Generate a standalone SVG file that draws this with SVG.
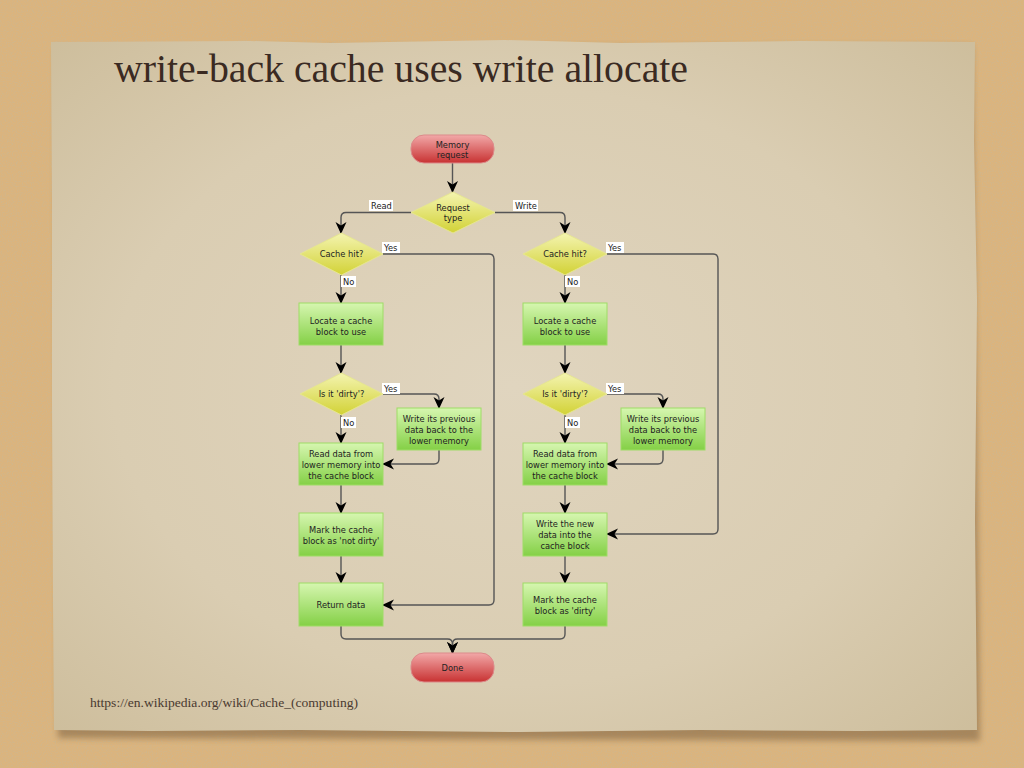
<svg xmlns="http://www.w3.org/2000/svg" width="1024" height="768" viewBox="0 0 1024 768">
<defs>
<filter id="cork" x="0" y="0" width="100%" height="100%">
<feTurbulence type="fractalNoise" baseFrequency="0.8" numOctaves="2" seed="3" result="n"/>
<feColorMatrix in="n" type="matrix" values="0 0 0 0 0.62  0 0 0 0 0.47  0 0 0 0 0.27  0 0 0 2.2 -0.95" result="c"/>
<feComposite in="c" in2="SourceGraphic" operator="over"/>
</filter>
<filter id="shadow" x="-5%" y="-5%" width="110%" height="110%">
<feGaussianBlur stdDeviation="3"/>
</filter>
<radialGradient id="paper" cx="50%" cy="50%" r="72%">
<stop offset="0" stop-color="#e0d5bf"/>
<stop offset="0.6" stop-color="#dacdb2"/>
<stop offset="1" stop-color="#cdbd9b"/>
</radialGradient>
<linearGradient id="gGreen" x1="0" y1="0" x2="0" y2="1">
<stop offset="0" stop-color="#d6f6b0"/>
<stop offset="1" stop-color="#84d046"/>
</linearGradient>
<linearGradient id="gRed" x1="0" y1="0" x2="0" y2="1">
<stop offset="0" stop-color="#f2a8a8"/>
<stop offset="1" stop-color="#c83232"/>
</linearGradient>
<linearGradient id="gYellow" x1="0" y1="0" x2="0" y2="1">
<stop offset="0" stop-color="#f4f4b0"/>
<stop offset="1" stop-color="#d2d236"/>
</linearGradient>
<marker id="arr" viewBox="0 0 12 12" refX="11" refY="6" markerWidth="12" markerHeight="12" markerUnits="userSpaceOnUse" orient="auto">
<path d="M0,0.5 L12,6 L0,11.5 L3.5,6 z" fill="#000"/>
</marker>
<style>
.box{fill:url(#gGreen);stroke:#9edc66;stroke-width:1}
.pill{fill:url(#gRed);stroke:#dc8a8a;stroke-width:1}
.dia{fill:url(#gYellow);stroke:#e6e690;stroke-width:1}
.t{font-family:"DejaVu Sans",Verdana,sans-serif;font-size:8.3px;fill:#222;text-anchor:middle}
.lbl{font-family:"DejaVu Sans",Verdana,sans-serif;font-size:8.3px;fill:#222}
.lb{fill:#ffffff}
.c path{fill:none;stroke:#555;stroke-width:1.4;marker-end:url(#arr)}
</style>
</defs>

<!-- cork background -->
<rect x="0" y="0" width="1024" height="768" fill="#dbb47d" filter="url(#cork)"/>

<!-- paper -->
<g id="paper-sheet">
<path d="M56,48 L972,46 L980,741 L58,738 Z" fill="#6b5030" opacity="0.45" filter="url(#shadow)"/>
<path d="M51,42 L250,41 L330,43 L505,40 L620,43 L800,41 L975,42 L974,140 L977,300 L975,520 L977,730 L860,731 L700,730 L520,732 L300,730 L150,731 L54,730 L53,600 L52,400 L52,200 Z" fill="url(#paper)"/>
</g>

<text id="title" x="114" y="82" font-family="'Liberation Serif','DejaVu Serif',serif" font-size="40" fill="#3a2a22" textLength="574" lengthAdjust="spacingAndGlyphs">write-back cache uses write allocate</text>
<text id="source" x="90" y="707" font-family="'Liberation Serif','DejaVu Serif',serif" font-size="13" fill="#4a3a30" textLength="268" lengthAdjust="spacingAndGlyphs">https://en.wikipedia.org/wiki/Cache_(computing)</text>

<!-- connectors -->
<g id="connectors" class="c">
<path d="M452.5,163 V192"/>
<path d="M411,212.5 H346 Q341,212.5 341,217.5 V233"/>
<path d="M495,212.5 H560 Q565,212.5 565,217.5 V233"/>
<path d="M383,254 H489 Q494,254 494,259 V600 Q494,605 489,605 H383"/>
<path d="M341,275 V303"/>
<path d="M341,345 V373"/>
<path d="M383,394 H434 Q439,394 439,399 V408"/>
<path d="M341,415 V443"/>
<path d="M439,450 V459 Q439,464 434,464 H383"/>
<path d="M341,485 V513"/>
<path d="M341,556 V583"/>
<path d="M341,626 V634 Q341,639 346,639 H447.5 Q452.5,639 452.5,644 V653"/>
<path d="M607,254 H713 Q718,254 718,259 V529 Q718,534 713,534 H607"/>
<path d="M565,275 V303"/>
<path d="M565,345 V373"/>
<path d="M607,394 H658 Q663,394 663,399 V408"/>
<path d="M565,415 V443"/>
<path d="M663,450 V459 Q663,464 658,464 H607"/>
<path d="M565,485 V513"/>
<path d="M565,556 V583"/>
<path d="M565,626 V634 Q565,639 560,639 H457.5 Q452.5,639 452.5,644 V653"/>
</g>

<!-- connector labels -->
<g id="labels">
<rect class="lb" x="369" y="200" width="24" height="11"/><text class="lbl" x="371" y="209">Read</text>
<rect class="lb" x="513" y="200" width="25" height="11"/><text class="lbl" x="515" y="209">Write</text>
<rect class="lb" x="382" y="242" width="18" height="11"/><text class="lbl" x="384" y="251">Yes</text>
<rect class="lb" x="341" y="276" width="15" height="11"/><text class="lbl" x="343" y="285">No</text>
<rect class="lb" x="606" y="242" width="18" height="11"/><text class="lbl" x="608" y="251">Yes</text>
<rect class="lb" x="565" y="276" width="15" height="11"/><text class="lbl" x="567" y="285">No</text>
<rect class="lb" x="382" y="383" width="18" height="11"/><text class="lbl" x="384" y="392">Yes</text>
<rect class="lb" x="341" y="417" width="15" height="11"/><text class="lbl" x="343" y="426">No</text>
<rect class="lb" x="606" y="383" width="18" height="11"/><text class="lbl" x="608" y="392">Yes</text>
<rect class="lb" x="565" y="417" width="15" height="11"/><text class="lbl" x="567" y="426">No</text>
</g>

<!-- nodes -->
<g id="memory-request"><rect class="pill" x="411" y="135" width="83" height="28" rx="13"/><text class="t" x="452.5" y="147.5">Memory</text><text class="t" x="452.5" y="158">request</text></g>
<g id="request-type"><polygon class="dia" points="453,192 495,212.5 453,233 411,212.5"/><text class="t" x="453" y="210.5">Request</text><text class="t" x="453" y="221">type</text></g>

<g id="l-cache-hit"><polygon class="dia" points="341.5,233 383,254 341.5,275 300,254"/><text class="t" x="341.5" y="257">Cache hit?</text></g>
<g id="l-locate"><rect class="box" x="299" y="303" width="84" height="42"/><text class="t" x="341" y="324">Locate a cache</text><text class="t" x="341" y="334.5">block to use</text></g>
<g id="l-dirty"><polygon class="dia" points="341.5,373 383,394 341.5,415 300,394"/><text class="t" x="341.5" y="397">Is it 'dirty'?</text></g>
<g id="l-writeback"><rect class="box" x="397" y="408" width="84" height="42"/><text class="t" x="439" y="422">Write its previous</text><text class="t" x="439" y="432.5">data back to the</text><text class="t" x="439" y="443.5">lower memory</text></g>
<g id="l-read"><rect class="box" x="299" y="443" width="84" height="42"/><text class="t" x="341" y="457">Read data from</text><text class="t" x="341" y="467.5">lower memory into</text><text class="t" x="341" y="478.5">the cache block</text></g>
<g id="l-mark"><rect class="box" x="299" y="513" width="84" height="43"/><text class="t" x="341" y="533">Mark the cache</text><text class="t" x="341" y="543.5">block as 'not dirty'</text></g>
<g id="l-return"><rect class="box" x="299" y="583" width="84" height="43"/><text class="t" x="341" y="608">Return data</text></g>

<g id="r-cache-hit"><polygon class="dia" points="565,233 607,254 565,275 523,254"/><text class="t" x="565" y="257">Cache hit?</text></g>
<g id="r-locate"><rect class="box" x="523" y="303" width="84" height="42"/><text class="t" x="565" y="324">Locate a cache</text><text class="t" x="565" y="334.5">block to use</text></g>
<g id="r-dirty"><polygon class="dia" points="565,373 607,394 565,415 523,394"/><text class="t" x="565" y="397">Is it 'dirty'?</text></g>
<g id="r-writeback"><rect class="box" x="621" y="408" width="84" height="42"/><text class="t" x="663" y="422">Write its previous</text><text class="t" x="663" y="432.5">data back to the</text><text class="t" x="663" y="443.5">lower memory</text></g>
<g id="r-read"><rect class="box" x="523" y="443" width="84" height="42"/><text class="t" x="565" y="457">Read data from</text><text class="t" x="565" y="467.5">lower memory into</text><text class="t" x="565" y="478.5">the cache block</text></g>
<g id="r-write"><rect class="box" x="523" y="513" width="84" height="43"/><text class="t" x="565" y="527">Write the new</text><text class="t" x="565" y="537.5">data into the</text><text class="t" x="565" y="548.5">cache block</text></g>
<g id="r-mark"><rect class="box" x="523" y="583" width="84" height="43"/><text class="t" x="565" y="603">Mark the cache</text><text class="t" x="565" y="613.5">block as 'dirty'</text></g>

<g id="done"><rect class="pill" x="411" y="653" width="83" height="29" rx="13"/><text class="t" x="452.5" y="671">Done</text></g>
</svg>
